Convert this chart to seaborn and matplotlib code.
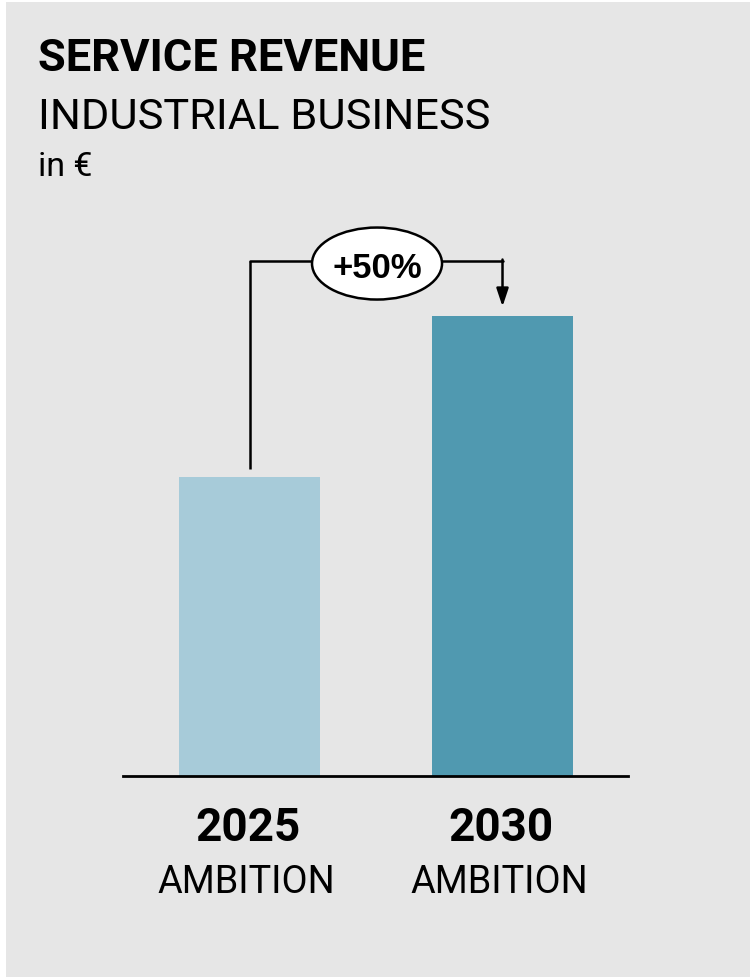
import matplotlib
matplotlib.use("Agg")
import matplotlib.pyplot as plt
import seaborn as sns
import pandas as pd
from matplotlib.patches import Ellipse, Rectangle

# ---- data ----
years = ["2025", "2030"]
sublabels = ["AMBITION", "AMBITION"]
values = [1.0, 1.54]
bar_colors = ["#a7cbd9", "#5099b0"]
growth_label = "+50%"
title = "SERVICE REVENUE"
subtitle = "INDUSTRIAL BUSINESS"
unit = "in €"

W, H = 751, 978
DPI = 100
sns.set_theme(style="white")
plt.rcParams['font.family'] = ['Roboto', 'DejaVu Sans']

fig = plt.figure(figsize=(W / DPI, H / DPI), dpi=DPI, facecolor="white")
BG = "#e6e6e6"
fig.patches.append(Rectangle((6 / W, 0), (750 - 6) / W, (H - 3) / H,
                             transform=fig.transFigure, facecolor=BG,
                             edgecolor="none", zorder=-10))

def fx(px):
    return px / W

def fy(py):
    return 1 - py / H

# axes: x from 123 to 628 px, y from 200 to 777 px
ax_left, ax_right, ax_top, ax_bottom = 123, 628, 200, 777
ax = fig.add_axes([fx(ax_left), fy(ax_bottom), (ax_right - ax_left) / W,
                   (ax_bottom - ax_top) / H])
ax.set_facecolor("none")

df = pd.DataFrame({"year": years, "value": values})
sns.barplot(data=df, x="year", y="value", hue="year", palette=bar_colors,
            width=0.557, legend=False, ax=ax, saturation=1, linewidth=0,
            edgecolor="none")

unit_px = 299.0  # pixels per data unit
ax.set_xlim(-0.5, 1.496)
ax.set_ylim(0, (ax_bottom - ax_top) / unit_px)

for s in ["top", "right", "left"]:
    ax.spines[s].set_visible(False)
ax.spines["bottom"].set_color("black")
ax.spines["bottom"].set_linewidth(2)
ax.set_xticks([])
ax.set_yticks([])
ax.set_xlabel("")
ax.set_ylabel("")

# category labels
for i, (yr, sub) in enumerate(zip(years, sublabels)):
    ax.annotate(yr, xy=(i, 0), xycoords=("data", "axes fraction"),
                xytext=(-2, -64), textcoords="offset pixels",
                ha="center", va="baseline", fontsize=33, fontweight="bold",
                color="black")
    ax.annotate(sub, xy=(i, 0), xycoords=("data", "axes fraction"),
                xytext=(-3, -116), textcoords="offset pixels",
                ha="center", va="baseline", fontsize=27.3, fontweight="normal",
                color="black")

# bracket
lw = 1.8
y_line = max(values) + 55 / unit_px   # horizontal connector level
y_start = values[0] + 8 / unit_px
y_tip = values[1] + 9 / unit_px
ell_cx = 0.504
ell_w = 130 / 253
ell_h = 72 / unit_px
ell_cy = y_line - 3 / unit_px
ax.plot([0, 0], [y_start, y_line], color="black", lw=lw, solid_capstyle="butt", clip_on=False)
ax.plot([0, ell_cx - ell_w / 2], [y_line, y_line], color="black", lw=lw, clip_on=False)
ax.plot([ell_cx + ell_w / 2, 1], [y_line, y_line], color="black", lw=lw, clip_on=False)
ax.annotate("", xy=(1, y_tip), xytext=(1, y_line + 1 / unit_px),
            arrowprops=dict(arrowstyle="-|>,head_length=0.9,head_width=0.3",
                            color="black", lw=lw, shrinkA=0, shrinkB=0),
            annotation_clip=False)
ax.add_patch(Ellipse((ell_cx, ell_cy), ell_w, ell_h, facecolor="white",
                     edgecolor="black", lw=1.8, clip_on=False, zorder=5))
ax.text(ell_cx, ell_cy, growth_label, ha="center", va="center_baseline",
        fontsize=25, fontweight="bold", color="black", zorder=6,
        family=["Liberation Sans", "DejaVu Sans"])

# titles
fig.text(fx(38), fy(71), title, ha="left", va="baseline", fontsize=32.6,
         fontweight="bold", color="black")
fig.text(fx(38), fy(129), subtitle, ha="left", va="baseline", fontsize=31.2,
         fontweight="normal", color="black")
fig.text(fx(38), fy(176), unit, ha="left", va="baseline", fontsize=24.5,
         fontweight="normal", color="black")

fig.savefig("out.png", dpi=DPI, facecolor=fig.get_facecolor())
